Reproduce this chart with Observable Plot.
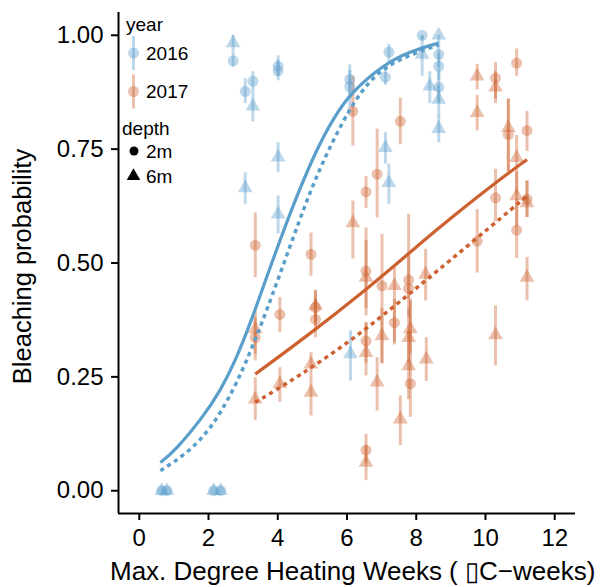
<!DOCTYPE html>
<html><head><meta charset="utf-8">
<script src="https://cdn.jsdelivr.net/npm/d3@7"></script>
<script src="https://cdn.jsdelivr.net/npm/@observablehq/plot@0.6"></script>
<style>
body{margin:0;background:#fff;}
#chart{position:relative;width:607px;height:587px;font-family:"Liberation Sans",Arial,sans-serif;}
#overlay{position:absolute;left:0;top:0;pointer-events:none;}
</style></head><body><div id="chart"></div>
<script>
// ---- categories / labels ----
const yearLabels = ["2016", "2017"];
const yearColors = ["#5a9ecb", "#cd6130"];
const depthLabels = ["2m", "6m"];
const xTicks = [0, 2, 4, 6, 8, 10, 12];
const yTicks = [0, 0.25, 0.5, 0.75, 1];
const xTitle = "Max. Degree Heating Weeks ( \u25AFC\u2212weeks)";
const yTitle = "Bleaching probability";

// ---- 2016 observations ----
const dhw2016 = [0.65,0.65,0.8,0.8,2.15,2.15,2.35,2.35, 2.71,2.71,3.28,3.06,3.28,4.01,4.01,4.01,3.06,4.01, 6.08,6.08,7.21,7.11,8.17,8.17,8.65,8.65,8.65,8.65,8.65,8.65,8.39,7.11,7.21,6.1];
const depth2016 = ["2m","6m","2m","6m","2m","6m","2m","6m", "6m","2m","2m","2m","6m","2m","2m","6m","6m","6m", "2m","2m","2m","2m","2m","6m","6m","2m","2m","2m","6m","6m","6m","6m","6m","6m"];
const prob2016 = [0,0,0,0,0,0,0,0, 0.983,0.944,0.899,0.877,0.844,0.932,0.922,0.732,0.665,0.607, 0.903,0.887,0.963,0.908,1.0,0.958,1.0,0.958,0.932,0.886,0.859,0.795,0.888,0.753,0.676,0.3];
const lo2016 = [0,0,0,0,0,0,0,0, 0.96,0.93,0.875,0.85,0.81,0.91,0.90,0.698,0.629,0.564, 0.86,0.84,0.94,0.89,0.99,0.91,0.98,0.93,0.90,0.85,0.82,0.764,0.85,0.717,0.629,0.241];
const hi2016 = [0,0,0,0,0,0,0,0, 1.0,0.96,0.92,0.905,0.875,0.955,0.945,0.764,0.698,0.647, 0.935,0.923,0.98,0.925,1.0,0.998,1.0,0.98,0.96,0.92,0.89,0.822,0.92,0.787,0.717,0.351];

// ---- 2017 observations ----
const dhw2017 = [3.35,4.96,6.17,6.55,6.55,7.01,7.37,7.37,7.78,7.78,7.83,7.78,7.78,7.83,7.01,6.87,7.54,6.55,6.55,6.55,6.55,5.09,5.09,5.09,4.06,3.35,3.35,3.35,4.06,4.96,4.96,6.17,7.54,6.87,6.55,9.76,9.76,10.29,10.29,10.9,10.66,10.66,11.2,10.9,10.29,10.9,10.9,11.2,11.2,11.2,9.76,10.29,8.27,8.29];
const depth2017 = ["2m","2m","6m","2m","6m","2m","6m","2m","2m","2m","6m","6m","6m","2m","6m","6m","6m","2m","6m","2m","6m","2m","2m","6m","2m","6m","2m","6m","6m","6m","6m","2m","2m","2m","2m","6m","6m","2m","6m","2m","6m","2m","2m","6m","2m","6m","2m","2m","6m","6m","2m","6m","6m","6m"];
const prob2017 = [0.539,0.519,0.588,0.482,0.468,0.45,0.45,0.369,0.463,0.444,0.355,0.336,0.274,0.235,0.34,0.238,0.157,0.329,0.303,0.089,0.062,0.402,0.376,0.406,0.387,0.355,0.336,0.201,0.235,0.278,0.216,0.833,0.811,0.695,0.656,0.91,0.83,0.906,0.886,0.939,0.797,0.782,0.791,0.731,0.643,0.647,0.572,0.64,0.632,0.468,0.548,0.342,0.475,0.289];
const lo2017 = [0.468,0.471,0.509,0.384,0.40,0.278,0.325,0.32,0.42,0.38,0.30,0.28,0.20,0.161,0.28,0.175,0.099,0.28,0.252,0.06,0.022,0.36,0.336,0.37,0.347,0.30,0.285,0.154,0.194,0.248,0.164,0.757,0.76,0.599,0.62,0.88,0.79,0.86,0.85,0.91,0.70,0.70,0.745,0.65,0.59,0.58,0.51,0.60,0.60,0.417,0.478,0.274,0.417,0.24];
const hi2017 = [0.610,0.566,0.636,0.577,0.55,0.563,0.49,0.42,0.607,0.52,0.42,0.40,0.35,0.417,0.40,0.292,0.208,0.369,0.369,0.124,0.10,0.439,0.42,0.44,0.424,0.395,0.38,0.248,0.27,0.303,0.248,0.91,0.862,0.794,0.69,0.936,0.868,0.94,0.92,0.97,0.86,0.86,0.833,0.78,0.706,0.70,0.64,0.68,0.68,0.512,0.617,0.406,0.53,0.336];

// ---- fitted curves ----
const fit2016_2m_x = [0.61,1.04,1.86,2.34,2.82,3.3,3.59,4.4,5.14,5.62,6.1,7.06,7.83,8.65];
const fit2016_2m_y = [0.062,0.088,0.164,0.219,0.292,0.387,0.45,0.621,0.753,0.819,0.873,0.936,0.965,0.983];
const fit2016_6m_x = [0.61,1.38,1.96,2.34,2.82,3.3,3.79,4.65,5.23,6.1,6.77,7.54,8.65];
const fit2016_6m_y = [0.044,0.082,0.128,0.17,0.236,0.322,0.417,0.6,0.713,0.845,0.912,0.95,0.979];
const fit2017_2m_x = [3.35,4.94,6.48,7.54,8.12,8.9,10.38,11.2];
const fit2017_2m_y = [0.256,0.345,0.437,0.505,0.543,0.593,0.682,0.727];
const fit2017_6m_x = [3.35,4.56,6.19,7.54,8.12,9.76,11.2];
const fit2017_6m_y = [0.194,0.249,0.333,0.416,0.452,0.555,0.647];

// ---- build tables ----
const points = [];
function addPoints(year, dhw, depth, prob, lo, hi) {
  dhw.forEach((d, i) => points.push({year, dhw: d, depth: depth[i], prob: prob[i], lo: lo[i], hi: hi[i]}));
}
addPoints("2016", dhw2016, depth2016, prob2016, lo2016, hi2016);
addPoints("2017", dhw2017, depth2017, prob2017, lo2017, hi2017);

const fits = [];
function addFit(year, depth, xs, ys) {
  xs.forEach((x, i) => fits.push({year, depth, key: year + depth, dhw: x, prob: ys[i]}));
}
addFit("2016", "2m", fit2016_2m_x, fit2016_2m_y);
addFit("2016", "6m", fit2016_6m_x, fit2016_6m_y);
addFit("2017", "2m", fit2017_2m_x, fit2017_2m_y);
addFit("2017", "6m", fit2017_6m_x, fit2017_6m_y);

const xDomain = [-0.6, 12.6];
const yDomain = [-0.05, 1.05];

const plot = Plot.plot({
  width: 607, height: 587,
  marginLeft: 118, marginRight: 32, marginTop: 12, marginBottom: 74,
  style: {fontFamily: "Liberation Sans, Arial, sans-serif", background: "#fff", color: "#000"},
  x: {domain: xDomain},
  y: {domain: yDomain},
  color: {domain: yearLabels, range: yearColors},
  symbol: {domain: depthLabels, range: ["circle", "triangle"]},
  marks: [
    Plot.ruleX(points, {x: "dhw", y1: "lo", y2: "hi", stroke: "year", strokeOpacity: 0.4, strokeWidth: 3}),
    Plot.dot(points, {x: "dhw", y: "prob", fill: "year", fillOpacity: 0.4, symbol: "depth", r: 5.5, stroke: "none"}),
    Plot.line(fits.filter(d => d.depth === "2m"), {x: "dhw", y: "prob", z: "key", stroke: "year", strokeWidth: 3.2, strokeLinecap: "butt", curve: "basis"}),
    Plot.line(fits.filter(d => d.depth === "6m"), {x: "dhw", y: "prob", z: "key", stroke: "year", strokeWidth: 3.5, strokeLinecap: "butt", strokeDasharray: "4.2,4", curve: "basis"}),
    Plot.ruleX([xDomain[0]], {stroke: "#000", strokeWidth: 2}),
    Plot.ruleY([yDomain[0]], {stroke: "#000", strokeWidth: 2}),
    Plot.axisX({ticks: xTicks, tickSize: 7, tickPadding: 8, fontSize: 24, strokeWidth: 2, label: null, tickFormat: d3.format("d")}),
    Plot.axisY({ticks: yTicks, tickSize: 7, tickPadding: 8, fontSize: 24, strokeWidth: 2, label: null, tickFormat: d3.format(".2f")})
  ]
});
const chart = document.getElementById("chart");
chart.appendChild(plot);

// ---- legend and axis titles (overlay) ----
const ov = d3.select(chart).append("svg").attr("id", "overlay").attr("width", 607).attr("height", 587)
  .style("font-family", "Liberation Sans, Arial, sans-serif");
ov.append("text").attr("x", 110).attr("y", 580).attr("font-size", 26).text(xTitle);
ov.append("text").attr("transform", "translate(31,266.5) rotate(-90)").attr("text-anchor", "middle").attr("font-size", 25.5).text(yTitle);

ov.append("text").attr("x", 126).attr("y", 31).attr("font-size", 19).text("year");
const legendRowsY = [53, 91.5];
yearLabels.forEach((y, i) => {
  const cy = legendRowsY[i];
  ov.append("line").attr("x1", 133.5).attr("x2", 133.5).attr("y1", cy - 17).attr("y2", cy + 17)
    .attr("stroke", yearColors[i]).attr("stroke-opacity", 0.4).attr("stroke-width", 3);
  ov.append("circle").attr("cx", 133.5).attr("cy", cy).attr("r", 5.5).attr("fill", yearColors[i]).attr("fill-opacity", 0.4);
  ov.append("text").attr("x", 146).attr("y", cy + 6.5).attr("font-size", 19).text(y);
});
ov.append("text").attr("x", 122).attr("y", 135).attr("font-size", 19).text("depth");
ov.append("circle").attr("cx", 134).attr("cy", 151).attr("r", 4.5).attr("fill", "#000");
ov.append("text").attr("x", 146).attr("y", 158).attr("font-size", 19).text(depthLabels[0]);
ov.append("path").attr("transform", "translate(133.5,176)").attr("d", d3.symbol(d3.symbolTriangle, 80)()).attr("fill", "#000");
ov.append("text").attr("x", 146).attr("y", 183).attr("font-size", 19).text(depthLabels[1]);
</script></body></html>
